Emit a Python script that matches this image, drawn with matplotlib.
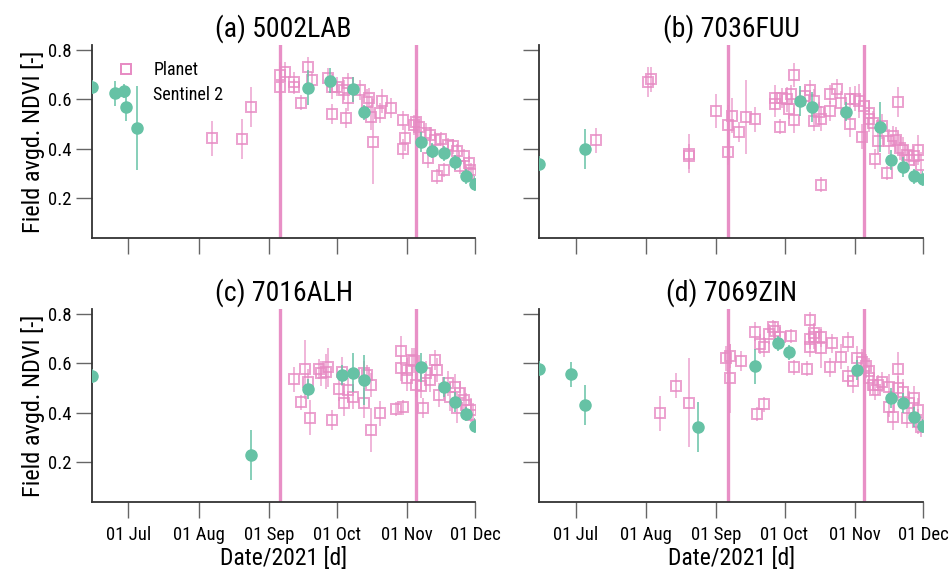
import matplotlib
matplotlib.use("Agg")
import matplotlib.pyplot as plt
import matplotlib.dates as mdates
from matplotlib import font_manager
from matplotlib.lines import Line2D
import pandas as pd

# (MM-DD, NDVI, error)
a_planet = [("08-07", 0.443, 0.07), ("08-20", 0.44, 0.08), ("08-24", 0.57, 0.08),
            ("09-06", 0.70, 0.05), ("09-08", 0.71, 0.04), ("09-06", 0.652, 0.06),
            ("09-12", 0.672, 0.04), ("09-12", 0.652, 0.03), ("09-15", 0.587, 0.03),
            ("09-18", 0.73, 0.04), ("09-20", 0.679, 0.03), ("09-27", 0.686, 0.04),
            ("09-29", 0.652, 0.05), ("09-29", 0.54, 0.04), ("10-01", 0.652, 0.04),
            ("10-04", 0.638, 0.04), ("10-05", 0.524, 0.04), ("10-06", 0.665, 0.04),
            ("10-06", 0.605, 0.05), ("10-11", 0.638, 0.04), ("10-14", 0.591, 0.05),
            ("10-15", 0.605, 0.04), ("10-16", 0.528, 0.05), ("10-17", 0.43, 0.17),
            ("10-20", 0.544, 0.04), ("10-21", 0.594, 0.05), ("10-25", 0.564, 0.04),
            ("10-30", 0.515, 0.04), ("10-31", 0.443, 0.05), ("10-30", 0.40, 0.04),
            ("11-04", 0.497, 0.04), ("11-05", 0.51, 0.05), ("11-06", 0.49, 0.04),
            ("11-09", 0.463, 0.04), ("11-11", 0.457, 0.03), ("11-10", 0.362, 0.04),
            ("11-13", 0.437, 0.03), ("11-14", 0.289, 0.03), ("11-17", 0.315, 0.03),
            ("11-16", 0.44, 0.03), ("11-19", 0.416, 0.03), ("11-21", 0.41, 0.03),
            ("11-23", 0.39, 0.03), ("11-24", 0.33, 0.03), ("11-26", 0.37, 0.03),
            ("11-28", 0.342, 0.03), ("11-29", 0.315, 0.03), ("11-30", 0.30, 0.03)]
a_sentinel = [("06-15", 0.65, 0.03), ("06-25", 0.625, 0.05), ("06-29", 0.634, 0.03),
              ("06-30", 0.571, 0.06), ("07-05", 0.486, 0.17), ("09-18", 0.647, 0.07),
              ("09-28", 0.676, 0.05), ("10-08", 0.641, 0.05), ("10-13", 0.548, 0.03),
              ("11-07", 0.427, 0.04), ("11-12", 0.392, 0.03), ("11-17", 0.383, 0.03),
              ("11-22", 0.346, 0.03), ("11-27", 0.289, 0.03), ("12-01", 0.259, 0.03)]

b_planet = [("07-10", 0.435, 0.05), ("08-02", 0.67, 0.06), ("08-03", 0.681, 0.05),
            ("08-20", 0.381, 0.08), ("08-20", 0.37, 0.05), ("09-01", 0.553, 0.07),
            ("09-06", 0.386, 0.05), ("09-06", 0.496, 0.08), ("09-08", 0.535, 0.07),
            ("09-11", 0.468, 0.04), ("09-14", 0.528, 0.15), ("09-18", 0.52, 0.05),
            ("09-27", 0.607, 0.05), ("09-27", 0.58, 0.05), ("09-29", 0.489, 0.03),
            ("09-30", 0.607, 0.04), ("10-02", 0.60, 0.05), ("10-03", 0.562, 0.04),
            ("10-05", 0.699, 0.05), ("10-05", 0.515, 0.05), ("10-04", 0.62, 0.04),
            ("10-10", 0.614, 0.04), ("10-12", 0.638, 0.04), ("10-14", 0.593, 0.05),
            ("10-14", 0.512, 0.04), ("10-16", 0.549, 0.04), ("10-17", 0.255, 0.03),
            ("10-17", 0.522, 0.05), ("10-21", 0.553, 0.04), ("10-21", 0.62, 0.04),
            ("10-24", 0.643, 0.04), ("10-26", 0.586, 0.05), ("10-30", 0.60, 0.05),
            ("10-30", 0.499, 0.05), ("11-01", 0.603, 0.05), ("11-03", 0.593, 0.07),
            ("11-04", 0.449, 0.05), ("11-05", 0.573, 0.05), ("11-07", 0.546, 0.05),
            ("11-07", 0.519, 0.05), ("11-09", 0.505, 0.05), ("11-10", 0.36, 0.04),
            ("11-11", 0.431, 0.05), ("11-13", 0.492, 0.05), ("11-15", 0.303, 0.03),
            ("11-16", 0.431, 0.05), ("11-18", 0.451, 0.04), ("11-20", 0.59, 0.06),
            ("11-19", 0.438, 0.05), ("11-21", 0.404, 0.05), ("11-22", 0.397, 0.05),
            ("11-24", 0.377, 0.04), ("11-25", 0.357, 0.04), ("11-27", 0.37, 0.04),
            ("11-29", 0.397, 0.06), ("11-30", 0.336, 0.05)]
b_sentinel = [("06-15", 0.341, 0.03), ("07-05", 0.40, 0.08), ("10-08", 0.593, 0.06),
              ("10-13", 0.57, 0.06), ("10-28", 0.551, 0.04), ("11-12", 0.488, 0.10),
              ("11-17", 0.354, 0.04), ("11-22", 0.327, 0.04), ("11-27", 0.289, 0.03),
              ("12-01", 0.28, 0.03)]

c_planet = [("09-12", 0.536, 0.05), ("09-15", 0.443, 0.03), ("09-17", 0.576, 0.12),
            ("09-18", 0.526, 0.05), ("09-19", 0.381, 0.07), ("09-23", 0.578, 0.04),
            ("09-24", 0.56, 0.05), ("09-26", 0.567, 0.07), ("09-27", 0.584, 0.08),
            ("09-29", 0.371, 0.04), ("10-02", 0.497, 0.05), ("10-03", 0.567, 0.06),
            ("10-04", 0.439, 0.05), ("10-06", 0.493, 0.05), ("10-08", 0.466, 0.05),
            ("10-13", 0.56, 0.05), ("10-13", 0.439, 0.06), ("10-14", 0.553, 0.04),
            ("10-16", 0.331, 0.09), ("10-16", 0.513, 0.05), ("10-20", 0.398, 0.05),
            ("10-27", 0.416, 0.03), ("10-30", 0.423, 0.03), ("10-29", 0.652, 0.06),
            ("10-29", 0.58, 0.05), ("11-01", 0.574, 0.05), ("11-01", 0.54, 0.05),
            ("11-03", 0.614, 0.05), ("11-04", 0.611, 0.05), ("11-05", 0.513, 0.05),
            ("11-07", 0.509, 0.05), ("11-08", 0.419, 0.04), ("11-09", 0.56, 0.05),
            ("11-11", 0.533, 0.05), ("11-13", 0.614, 0.04), ("11-14", 0.574, 0.05),
            ("11-15", 0.473, 0.05), ("11-19", 0.52, 0.05), ("11-20", 0.466, 0.06),
            ("11-22", 0.506, 0.05), ("11-23", 0.419, 0.06), ("11-24", 0.479, 0.05),
            ("11-26", 0.452, 0.05), ("11-27", 0.432, 0.05), ("11-29", 0.412, 0.05),
            ("11-30", 0.392, 0.05)]
c_sentinel = [("06-15", 0.549, 0.03), ("08-24", 0.231, 0.10), ("09-18", 0.498, 0.04),
              ("10-03", 0.553, 0.04), ("10-08", 0.563, 0.08), ("10-13", 0.533, 0.10),
              ("11-07", 0.584, 0.06), ("11-17", 0.506, 0.04), ("11-22", 0.443, 0.04),
              ("11-27", 0.396, 0.03), ("12-01", 0.349, 0.03)]

d_planet = [("08-07", 0.398, 0.07), ("08-14", 0.51, 0.05), ("08-20", 0.442, 0.18),
            ("09-05", 0.621, 0.05), ("09-07", 0.63, 0.05), ("09-07", 0.54, 0.14),
            ("09-12", 0.611, 0.04), ("09-18", 0.729, 0.04), ("09-19", 0.396, 0.03),
            ("09-20", 0.679, 0.04), ("09-22", 0.435, 0.03), ("09-22", 0.665, 0.04),
            ("09-24", 0.719, 0.04), ("09-26", 0.746, 0.03), ("09-27", 0.733, 0.04),
            ("09-29", 0.708, 0.04), ("10-04", 0.711, 0.03), ("10-05", 0.584, 0.03),
            ("10-11", 0.578, 0.03), ("10-12", 0.776, 0.03), ("10-12", 0.698, 0.04),
            ("10-12", 0.665, 0.04), ("10-14", 0.725, 0.04), ("10-14", 0.708, 0.05),
            ("10-17", 0.661, 0.08), ("10-17", 0.706, 0.04), ("10-21", 0.584, 0.04),
            ("10-22", 0.681, 0.04), ("10-26", 0.627, 0.05), ("10-29", 0.688, 0.04),
            ("10-29", 0.549, 0.04), ("10-31", 0.53, 0.05), ("11-02", 0.621, 0.05),
            ("11-04", 0.607, 0.05), ("11-06", 0.59, 0.05), ("11-07", 0.571, 0.05),
            ("11-07", 0.54, 0.05), ("11-09", 0.513, 0.04), ("11-10", 0.493, 0.04),
            ("11-11", 0.513, 0.04), ("11-13", 0.526, 0.04), ("11-16", 0.506, 0.05),
            ("11-16", 0.423, 0.04), ("11-18", 0.382, 0.05), ("11-20", 0.578, 0.07),
            ("11-20", 0.50, 0.05), ("11-22", 0.486, 0.05), ("11-24", 0.378, 0.04),
            ("11-25", 0.439, 0.05), ("11-27", 0.459, 0.05), ("11-29", 0.412, 0.05),
            ("11-29", 0.365, 0.05), ("11-30", 0.344, 0.04)]
d_sentinel = [("06-15", 0.578, 0.03), ("06-29", 0.556, 0.05), ("07-05", 0.433, 0.08),
              ("08-24", 0.344, 0.10), ("09-18", 0.588, 0.07), ("09-28", 0.681, 0.03),
              ("10-03", 0.645, 0.03), ("11-02", 0.574, 0.04), ("11-17", 0.462, 0.04),
              ("11-22", 0.439, 0.04), ("11-27", 0.385, 0.04), ("12-01", 0.347, 0.03)]

titles = ["(a) 5002LAB", "(b) 7036FUU", "(c) 7016ALH", "(d) 7069ZIN"]
planet_sets = [a_planet, b_planet, c_planet, d_planet]
sentinel_sets = [a_sentinel, b_sentinel, c_sentinel, d_sentinel]
event_dates = ["2021-09-06", "2021-11-05"]

pink = "#e78ac3"
green = "#66c2a5"

names = {f.name for f in font_manager.fontManager.ttflist}
fam = [f for f in ["Roboto Condensed", "Roboto"] if f in names]
plt.rcParams["font.family"] = fam[:1] + ["DejaVu Sans"]


def unpack(rows):
    d = pd.to_datetime(["2021-" + r[0] for r in rows])
    return d, [r[1] for r in rows], [r[2] for r in rows]


fig, axes = plt.subplots(2, 2, figsize=(9.52, 5.74), dpi=100, sharex=True, sharey=True)
fig.subplots_adjust(left=0.0966, right=0.9695, top=0.9216, bottom=0.1254,
                    wspace=0.167, hspace=0.368)

for i, ax in enumerate(axes.flat):
    for ev in event_dates:
        ax.axvline(pd.Timestamp(ev), color=pink, lw=2.4, alpha=0.95, zorder=1)
    d, v, e = unpack(planet_sets[i])
    ax.errorbar(d, v, yerr=e, fmt="s", ms=7.5, mfc="none", mec=pink, mew=1.4,
                ecolor=pink, elinewidth=1.1, alpha=0.8, zorder=2)
    d, v, e = unpack(sentinel_sets[i])
    ax.errorbar(d, v, yerr=e, fmt="o", ms=8, color=green, mec=green,
                ecolor=green, elinewidth=1.1, zorder=3)
    ax.set_title(titles[i], fontsize=20, pad=6)
    for s in ["top", "right"]:
        ax.spines[s].set_visible(False)
    for s in ["left", "bottom"]:
        ax.spines[s].set_color("#333333")
        ax.spines[s].set_linewidth(1.3)
    ax.tick_params(axis="x", length=11.5, width=1, color="#666666", labelsize=13.5, pad=6)
    ax.tick_params(axis="y", length=11.5, width=1, color="#666666", labelsize=13.5)

ax0 = axes[0, 0]
ax0.set_xlim(pd.Timestamp("2021-06-15"), pd.Timestamp("2021-12-01"))
ax0.set_ylim(0.04, 0.82)
ax0.set_yticks([0.2, 0.4, 0.6, 0.8])
ax0.xaxis.set_major_locator(mdates.MonthLocator(bymonth=[7, 8, 9, 10, 11, 12]))
ax0.xaxis.set_major_formatter(mdates.DateFormatter("%d %b"))

for ax in axes[:, 0]:
    ax.set_ylabel("Field avgd. NDVI [-]", fontsize=17.5, labelpad=2)
for ax in axes[1, :]:
    ax.set_xlabel("Date/2021 [d]", fontsize=17, labelpad=2)

handles = [Line2D([], [], ls="none", marker="s", ms=7.5, mfc="none", mec=pink, mew=1.4),
           Line2D([], [], ls="none", marker="none")]
ax0.legend(handles, ["Planet", "Sentinel 2"], loc="upper left", frameon=False,
           fontsize=13, bbox_to_anchor=(0.0, 1.0), labelspacing=0.4, handletextpad=0.5)

fig.savefig("out.png", dpi=100)
